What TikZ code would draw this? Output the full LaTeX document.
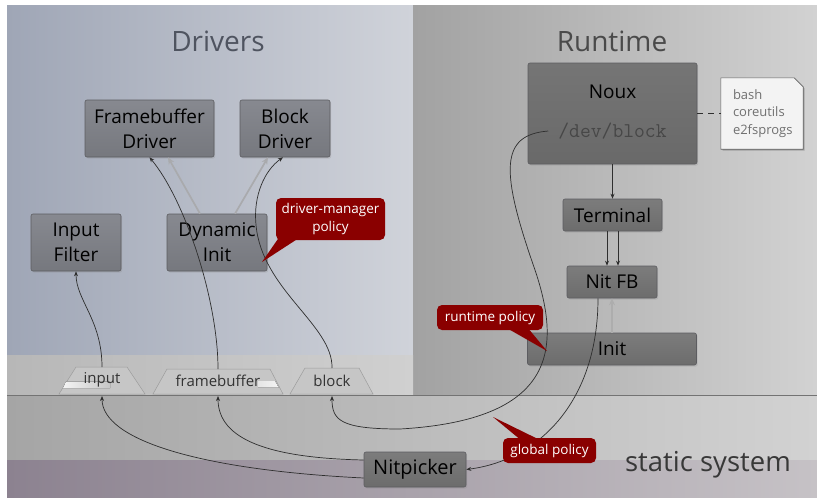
\documentclass[tikz,border=0pt]{standalone}
\usepackage{fontspec}
\setmainfont{Open Sans}
\usetikzlibrary{arrows.meta,shadows}
\definecolor{drvL}{HTML}{9FA6B6}
\definecolor{drvR}{HTML}{D0D3DA}
\definecolor{rtL}{HTML}{A2A2A2}
\definecolor{rtR}{HTML}{D2D2D2}
\definecolor{stripL}{HTML}{B7B7B7}
\definecolor{stripR}{HTML}{D0D0D0}
\definecolor{midL}{HTML}{A5A5A5}
\definecolor{midR}{HTML}{D2D2D2}
\definecolor{botL}{HTML}{8C8290}
\definecolor{botR}{HTML}{C6C2C6}
\definecolor{callred}{HTML}{8A0000}
\definecolor{boxtop}{HTML}{878990}
\definecolor{boxbot}{HTML}{76787E}
\definecolor{rboxtop}{HTML}{7C7C7C}
\definecolor{rboxbot}{HTML}{6C6C6C}
\definecolor{nouxtop}{HTML}{757575}
\definecolor{nouxbot}{HTML}{696969}
\definecolor{edge}{HTML}{5C5C60}
\definecolor{wirec}{HTML}{2E2E2E}
\definecolor{ghost}{HTML}{A9AAAD}
\definecolor{tabfill}{HTML}{C6C6C6}
\definecolor{tabedge}{HTML}{9C9C9C}
\definecolor{notefill}{HTML}{F3F3F3}
\definecolor{notetext}{HTML}{707070}
\definecolor{titleD}{HTML}{4F5460}
\definecolor{titleR}{HTML}{4A4A4A}
\begin{document}
\begin{tikzpicture}[x=1pt,y=-1pt,
  box/.style={draw=edge, line width=0.6pt, rounded corners=2pt, top color=boxtop, bottom color=boxbot,
    align=center, inner sep=0pt, font=\fontsize{19}{25}\selectfont,
    drop shadow={shadow xshift=1.2pt, shadow yshift=-1.5pt, opacity=0.22}},
  rbox/.style={box, top color=rboxtop, bottom color=rboxbot},
  wire/.style={draw=wirec, line width=0.7pt, -{Stealth[length=5pt,width=4pt]}},
  ghostwire/.style={draw=ghost, line width=1.7pt, -{Stealth[length=7pt,width=6pt]}},
  callout/.style={fill=callred, text=white, rounded corners=5pt, align=center, inner sep=0pt,
    font=\fontsize{13.5}{18}\selectfont},
  tab/.style={fill=tabfill, draw=tabedge, line width=0.5pt},
  tablabel/.style={text=black!80, font=\fontsize{15}{18}\selectfont},
  title/.style={anchor=base, font=\fontsize{28}{32}\selectfont}]
\useasboundingbox (0,0) rectangle (817,498);
% backgrounds
\fill[left color=drvL, right color=drvR] (7,5) rectangle (413,355);
\fill[left color=rtL, right color=rtR] (413,5) rectangle (817,395);
\fill[left color=stripL, right color=stripR] (7,355) rectangle (413,395);
\fill[left color=midL, right color=midR] (7,395) rectangle (817,460);
\fill[left color=botL, right color=botR] (7,460) rectangle (817,498);
\draw[draw=black!55, line width=0.8pt] (7,395) -- (817,395);
% titles
\node[title, text=titleD] (ttlD) at (218,51) {Drivers};
\node[title, text=titleR] (ttlR) at (612,51) {Runtime};
\node[anchor=base, font=\fontsize{27.5}{30}\selectfont, text=black!78] (ttlS) at (708,471) {static system};
% tabs
\path[tab] (59,394) -- (76,367) -- (127,367) -- (145,394) -- cycle;
\fill[left color=white!80!tabfill, right color=tabfill] (66,381.5) -- (110,381.5) -- (110,388) -- (63,388) -- cycle;
\node[tablabel] (tabin) at (102,380) {input};
\coordinate (tabinT) at (102,367);
\coordinate (tabinB) at (102,396);
\path[tab] (153,394) -- (167,369) -- (270,369) -- (283,394) -- cycle;
\fill[left color=white!55!tabfill, right color=white!80!tabfill] (258,381) -- (275,381) -- (278.5,387.5) -- (258,387.5) -- cycle;
\node[tablabel] (tabfb) at (218,381) {framebuffer};
\coordinate (tabfbT) at (218,369);
\coordinate (tabfbB) at (218,396);
\path[tab] (290,394) -- (305,368) -- (359,368) -- (373,394) -- cycle;
\node[tablabel] (tabbl) at (332,381) {block};
\coordinate (tabblT) at (332,368);
\coordinate (tabblB) at (332,396);
% driver boxes
\node[box, minimum width=129pt, minimum height=57pt] (fbd) at (149.5,128.5) {Framebuffer\\Driver};
\node[box, minimum width=90pt, minimum height=57pt] (bld) at (285,128.5) {Block\\Driver};
\node[box, minimum width=90pt, minimum height=57pt] (inf) at (76,242.5) {Input\\Filter};
\node[box, minimum width=100pt, minimum height=57pt] (dyn) at (217,242.5) {Dynamic\\Init};
% runtime boxes
\node[rbox, top color=nouxtop, bottom color=nouxbot, minimum width=169pt, minimum height=101pt] (noux) at (612.5,113.5) {};
\node[font=\fontsize{19}{24}\selectfont] (nouxlbl) at (612.5,92) {Noux};
\node[font=\ttfamily\fontsize{21}{24}\selectfont, text=black!72, inner xsep=10pt] (devblock) at (612.5,131) {/dev/block};
\node[rbox, minimum width=99pt, minimum height=32pt] (term) at (612.5,215) {Terminal};
\node[rbox, minimum width=90pt, minimum height=32pt] (nitfb) at (612,282) {Nit FB};
\node[rbox, minimum width=169pt, minimum height=32pt] (init) at (612,349) {Init};
\node[rbox, minimum width=102pt, minimum height=35pt, font=\fontsize{20}{24}\selectfont] (nitp) at (415,469.5) {Nitpicker};
% note
\node[minimum width=82pt, minimum height=71pt, inner sep=0pt] (note) at (762,113.5) {};
\fill[black, opacity=0.2] (722.5,79.5) -- (795.5,79.5) -- (804.5,88.5) -- (804.5,150.5) -- (722.5,150.5) -- cycle;
\filldraw[fill=notefill, draw=black!62, line width=0.6pt] (note.north west) -- ([xshift=-9pt]note.north east) -- ([yshift=-9pt]note.north east) -- (note.south east) -- (note.south west) -- cycle;
\node[text width=58pt, inner xsep=12pt, inner ysep=0pt, align=left,
  text=notetext, font=\fontsize{13}{17.5}\selectfont] (notetxt) at (note.center) {bash\\coreutils\\e2fsprogs};
\draw[draw=wirec, line width=0.7pt, dash pattern=on 6pt off 5pt] (noux.east) -- (note.west);
% straight arrows
\draw[wire] (noux.south) -- (term.north);
\draw[wire] ([xshift=-5.5pt]term.south) -- ([xshift=-5pt]nitfb.north);
\draw[wire] ([xshift=5.5pt]term.south) -- ([xshift=6pt]nitfb.north);
\draw[ghostwire, draw=black!32, line width=1.4pt] (init.north) -- (nitfb.south);
\draw[ghostwire] ([xshift=-17pt]dyn.north) -- ([xshift=18.5pt]fbd.south);
\draw[ghostwire] ([xshift=18pt]dyn.north) -- ([xshift=-17pt]bld.south);
% curves
\draw[wire] (tabinT) .. controls (102,320) and (76,300) .. (inf.south);
\draw[wire] (tabfbT) .. controls (218,300) and (185,200) .. (fbd.south);
\draw[wire] (tabblT) .. controls (333,325) and (262,290) .. (256,225) .. controls (253,195) and (265,170) .. ([xshift=-2pt]bld.south);
\draw[wire] ([yshift=-8.5pt]nitp.west) .. controls (200,470) and (102,440) .. (tabinB);
\draw[wire] ([yshift=9.5pt]nitp.west) .. controls (270,458) and (218,440) .. (tabfbB);
\draw[wire] (devblock.west) .. controls (500,135) and (500,170) .. (535,270) .. controls (562,350) and (555,420) .. (400,429) .. controls (340,429) and (332,420) .. (tabblB);
\draw[wire] ([xshift=-14pt]nitfb.south) .. controls (598,400) and (540,460) .. (nitp.east);
% callouts
\fill[callred] (280,236) -- (302,236) -- (262,262) -- cycle;
\node[callout, minimum width=109pt, minimum height=42pt] (dmp) at (330.5,219) {driver-manager\\policy};
\fill[callred] (505,327) -- (527,327) -- (547,351) -- cycle;
\node[callout, minimum width=106pt, minimum height=25pt] (rtp) at (490,317.5) {runtime policy};
\fill[callred] (522,441) -- (542,441) -- (493,417) -- cycle;
\node[callout, minimum width=93pt, minimum height=25pt] (glp) at (549.5,450.5) {global policy};
\end{tikzpicture}
\end{document}
